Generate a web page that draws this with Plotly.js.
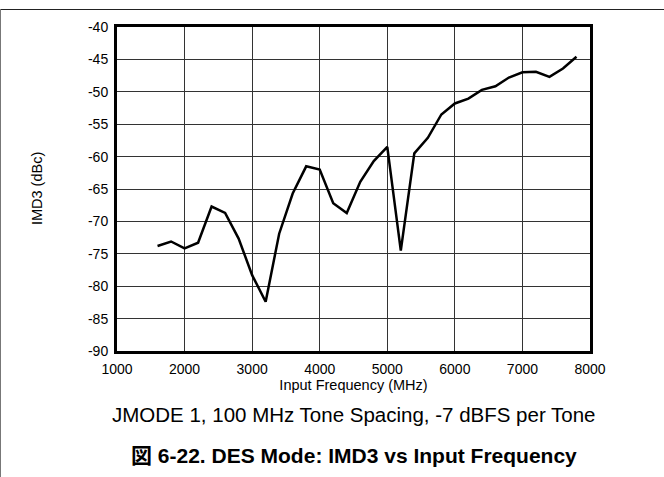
<!DOCTYPE html>
<html>
<head>
<meta charset="utf-8">
<script src="https://cdn.plot.ly/plotly-3.0.1.min.js"></script>
<style>
  html, body { margin: 0; padding: 0; background: #fff; }
  #wrap { position: relative; width: 664px; height: 477px; overflow: hidden; }
  #chart { position: absolute; left: 0; top: 0; width: 664px; height: 477px; }
  #frameTop { position: absolute; left: 0; top: 9px; width: 664px; height: 1px; background: #222; }
  #frameLeft { position: absolute; left: 0; top: 9px; width: 1px; height: 468px; background: #777; }
</style>
</head>
<body>
<div id="wrap">
  <div id="chart"></div>
  <div id="frameTop"></div>
  <div id="frameLeft"></div>
</div>
<script>
const freqMHz = [1600, 1800, 2000, 2200, 2400, 2600, 2800, 3000, 3200, 3400, 3600, 3800,
                 4000, 4200, 4400, 4600, 4800, 5000, 5200, 5400, 5600, 5800, 6000, 6200,
                 6400, 6600, 6800, 7000, 7200, 7400, 7600, 7800];
const imd3dBc = [-73.8, -73.1, -74.15, -73.3, -67.7, -68.7, -72.65, -78.3, -82.4, -71.9, -65.7, -61.5,
                 -62.0, -67.2, -68.7, -63.9, -60.7, -58.5, -74.5, -59.5, -57.1, -53.5, -51.8, -51.05,
                 -49.7, -49.15, -47.8, -47.0, -46.9, -47.7, -46.4, -44.6];
const xTicks = [1000, 2000, 3000, 4000, 5000, 6000, 7000, 8000];
const yTicks = [-40, -45, -50, -55, -60, -65, -70, -75, -80, -85, -90];
const xTitle = 'Input Frequency (MHz)';
const yTitle = 'IMD3 (dBc)';
const caption = 'JMODE 1, 100 MHz Tone Spacing, -7 dBFS per Tone';
const figTitle = '図 6-22. DES Mode: IMD3 vs Input Frequency';

const font = 'Liberation Sans, Arial, sans-serif';

const trace = {
  x: freqMHz, y: imd3dBc, type: 'scatter', mode: 'lines',
  line: { color: '#000', width: 2.5 },
  hoverinfo: 'skip'
};

const layout = {
  width: 664, height: 477,
  margin: { l: 117, r: 74, t: 27, b: 126 },
  paper_bgcolor: '#fff', plot_bgcolor: '#fff',
  showlegend: false,
  font: { family: font, color: '#000', size: 14 },
  xaxis: {
    range: [1000, 8000], tickvals: xTicks, ticktext: xTicks.map(String),
    showgrid: true, gridcolor: '#333', gridwidth: 1,
    showline: true, linecolor: '#000', linewidth: 3, mirror: true,
    zeroline: false, ticks: '', ticklabelstandoff: 3,
    tickfont: { family: font, size: 14, color: '#000' },
    title: { text: xTitle, font: { family: font, size: 14.5, color: '#000' }, standoff: 1 }
  },
  yaxis: {
    range: [-90, -40], tickvals: yTicks, ticktext: yTicks.map(String),
    showgrid: true, gridcolor: '#333', gridwidth: 1,
    showline: true, linecolor: '#000', linewidth: 3, mirror: true,
    zeroline: false, ticks: '', ticklabelstandoff: 3,
    tickfont: { family: font, size: 14, color: '#000' }
  },
  annotations: [
    { text: yTitle, xref: 'paper', yref: 'paper', x: -0.169, y: 0.5, textangle: -90,
      xanchor: 'center', yanchor: 'middle', showarrow: false,
      font: { family: font, size: 14.5, color: '#000' } },
    { text: caption, xref: 'paper', yref: 'paper', x: 0.5, y: -0.1975,
      xanchor: 'center', yanchor: 'middle', showarrow: false,
      font: { family: font, size: 20.5, color: '#000' } },
    { text: '<b>' + figTitle + '</b>', xref: 'paper', yref: 'paper', x: 0.5, y: -0.324,
      xanchor: 'center', yanchor: 'middle', showarrow: false,
      font: { family: font + ', Noto Sans CJK JP', size: 21, color: '#000' } }
  ]
};

Plotly.newPlot('chart', [trace], layout, { staticPlot: true, displayModeBar: false });
</script>
</body>
</html>
